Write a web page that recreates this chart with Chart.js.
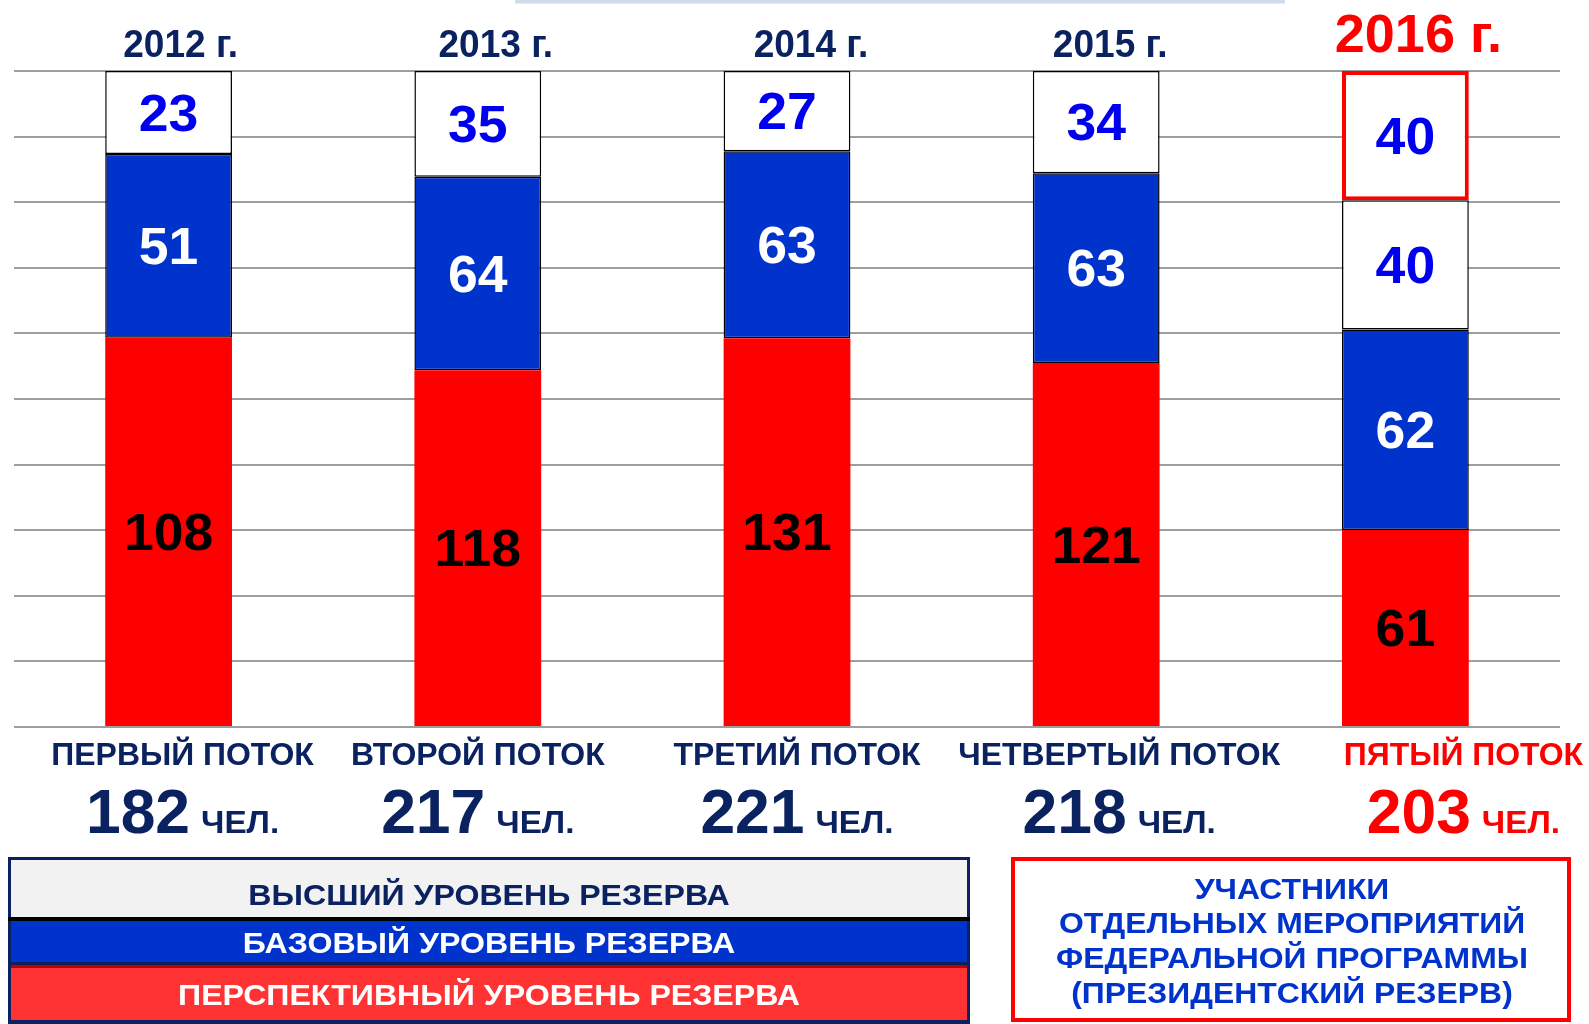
<!DOCTYPE html>
<html>
<head>
<meta charset="utf-8">
<script src="https://cdn.jsdelivr.net/npm/chart.js@4/dist/chart.umd.min.js"></script>
<style>
html,body{margin:0;padding:0;background:#fff;}
#wrap{position:relative;width:1589px;height:1024px;}
</style>
</head>
<body>
<div id="wrap"><canvas id="c" width="1589" height="1024"></canvas></div>
<script>
// ---- data ----
const categories = ['ПЕРВЫЙ ПОТОК', 'ВТОРОЙ ПОТОК', 'ТРЕТИЙ ПОТОК', 'ЧЕТВЕРТЫЙ ПОТОК', 'ПЯТЫЙ ПОТОК'];
const years = ['2012 г.', '2013 г.', '2014 г.', '2015 г.', '2016 г.'];
const perspectiveLevel = [108, 118, 131, 121, 61];   // ПЕРСПЕКТИВНЫЙ УРОВЕНЬ РЕЗЕРВА
const baseLevel = [51, 64, 63, 63, 62];              // БАЗОВЫЙ УРОВЕНЬ РЕЗЕРВА
const highLevel = [23, 35, 27, 34, 40];              // ВЫСШИЙ УРОВЕНЬ РЕЗЕРВА
const presidential = [null, null, null, null, 40];   // ПРЕЗИДЕНТСКИЙ РЕЗЕРВ
const totals = [182, 217, 221, 218, 203];
const unitLabel = 'ЧЕЛ.';
const legendLabels = ['ВЫСШИЙ УРОВЕНЬ РЕЗЕРВА', 'БАЗОВЫЙ УРОВЕНЬ РЕЗЕРВА', 'ПЕРСПЕКТИВНЫЙ УРОВЕНЬ РЕЗЕРВА'];
const noteLines = ['УЧАСТНИКИ', 'ОТДЕЛЬНЫХ МЕРОПРИЯТИЙ', 'ФЕДЕРАЛЬНОЙ ПРОГРАММЫ', '(ПРЕЗИДЕНТСКИЙ РЕЗЕРВ)'];
const yTickValues = [0, 10, 20, 30, 40, 50, 60, 70, 80, 90, 100];

// each bar is shown as a 100% stack
const share = arr => arr.map((v, i) => v == null ? null : v / totals[i] * 100);

const NAVY = '#0b2260';
const RED = '#ff0000';
const BLUE = '#0033cc';
const LABEL_BLUE = '#0000ee';
const FONT = '"Liberation Sans", Arial, sans-serif';

function txt(ctx, s, x, y, size, color, align, sx) {
  ctx.save();
  ctx.font = 'bold ' + size + 'px ' + FONT;
  ctx.fillStyle = color;
  ctx.textBaseline = 'alphabetic';
  ctx.textAlign = align || 'center';
  ctx.translate(x, y);
  ctx.scale(sx || 1, 1);
  ctx.fillText(s, 0, 0);
  ctx.restore();
}
function tw(ctx, s, size, sx) {
  ctx.save();
  ctx.font = 'bold ' + size + 'px ' + FONT;
  const w = ctx.measureText(s).width * (sx || 1);
  ctx.restore();
  return w;
}

const labelColors = ['#000000', '#ffffff', LABEL_BLUE, LABEL_BLUE];
const rawSets = [perspectiveLevel, baseLevel, highLevel, presidential];

const decorPlugin = {
  id: 'decor',
  beforeDraw(chart) {
    const ctx = chart.ctx;
    ctx.save();
    ctx.fillStyle = '#cfdaea';
    ctx.fillRect(515, 0, 770, 3.5);
    ctx.restore();
  },
  afterDatasetsDraw(chart) {
    const ctx = chart.ctx;
    // segment value labels
    chart.data.datasets.forEach((ds, di) => {
      const meta = chart.getDatasetMeta(di);
      meta.data.forEach((el, i) => {
        const v = rawSets[di][i];
        if (v == null) return;
        const cy = (el.y + el.base) / 2;
        txt(ctx, String(v), el.x, cy + 0.358 * 51, 51, labelColors[di], 'center', 1.05);
      });
    });
  },
  afterDraw(chart) {
    const ctx = chart.ctx;
    const xs = chart.scales.x;
    const yearDx = [12, 18, 24, 14, 13];
    const catDx = [14, 0, 10, 23, 58];
    categories.forEach((c, i) => {
      const cx = xs.getPixelForValue(i);
      const last = i === categories.length - 1;
      // year label above bar
      if (last) txt(ctx, years[i], cx + yearDx[i], 52, 54, RED, 'center', 1.0);
      else txt(ctx, years[i], cx + yearDx[i], 57, 38, NAVY, 'center', 0.975);
      // category label
      const col = last ? RED : NAVY;
      const gx = cx + catDx[i];
      txt(ctx, c, gx, 765, 31, col, 'center', 1.03);
      // total
      const nS = String(totals[i]);
      const nw = tw(ctx, nS, 63, 0.99);
      const uw = tw(ctx, unitLabel, 32, 1.04);
      const gap = 11;
      const start = gx - (nw + gap + uw) / 2;
      txt(ctx, nS, start, 833, 63, col, 'left', 0.99);
      txt(ctx, unitLabel, start + nw + gap, 833, 32, col, 'left', 1.04);
    });

    // legend block (bottom left)
    ctx.save();
    ctx.fillStyle = NAVY; ctx.fillRect(8, 857, 962, 167);
    ctx.fillStyle = '#f2f2f2'; ctx.fillRect(11, 860, 956, 57);
    ctx.fillStyle = '#000000'; ctx.fillRect(8, 917, 962, 4);
    ctx.fillStyle = BLUE; ctx.fillRect(11, 921, 956, 41);
    ctx.fillStyle = '#c00000'; ctx.fillRect(11, 965, 956, 3);
    ctx.fillStyle = '#ff3333'; ctx.fillRect(11, 968, 956, 52);
    ctx.restore();
    txt(ctx, legendLabels[0], 489, 905, 30, NAVY, 'center', 1.07);
    txt(ctx, legendLabels[1], 489, 953, 30, '#ffffff', 'center', 1.07);
    txt(ctx, legendLabels[2], 489, 1005, 30, '#ffffff', 'center', 1.07);

    // note box (bottom right)
    ctx.save();
    ctx.strokeStyle = RED; ctx.lineWidth = 4;
    ctx.strokeRect(1013, 859, 556, 161);
    ctx.restore();
    const bl = [899, 933, 968, 1003];
    noteLines.forEach((s, k) => txt(ctx, s, 1292, bl[k], 29, BLUE, 'center', 1.1));
  }
};

new Chart(document.getElementById('c'), {
  type: 'bar',
  data: {
    labels: categories,
    datasets: [
      { label: legendLabels[2], data: share(perspectiveLevel), backgroundColor: RED, borderWidth: 0 },
      { label: legendLabels[1], data: share(baseLevel), backgroundColor: BLUE, borderColor: '#000', borderWidth: 1.5, borderSkipped: false },
      { label: legendLabels[0], data: share(highLevel), backgroundColor: '#ffffff', borderColor: '#000', borderWidth: 1.5, borderSkipped: false },
      { label: 'ПРЕЗИДЕНТСКИЙ РЕЗЕРВ', data: share(presidential), backgroundColor: '#ffffff', borderColor: RED, borderWidth: 4, borderSkipped: false }
    ]
  },
  options: {
    responsive: false,
    animation: false,
    devicePixelRatio: 1,
    layout: { padding: { left: 14, right: 29, top: 71, bottom: 297 } },
    datasets: { bar: { categoryPercentage: 1, barPercentage: 0.41 } },
    plugins: { legend: { display: false }, tooltip: { enabled: false } },
    scales: {
      x: { stacked: true, display: false },
      y: {
        stacked: true, min: 0, max: 100,
        afterBuildTicks: s => { s.ticks = yTickValues.map(v => ({ value: v })); },
        ticks: { display: false },
        grid: { color: '#9e9e9e', lineWidth: 2, drawTicks: false },
        border: { display: false }
      }
    }
  },
  plugins: [decorPlugin]
});
</script>
</body>
</html>
